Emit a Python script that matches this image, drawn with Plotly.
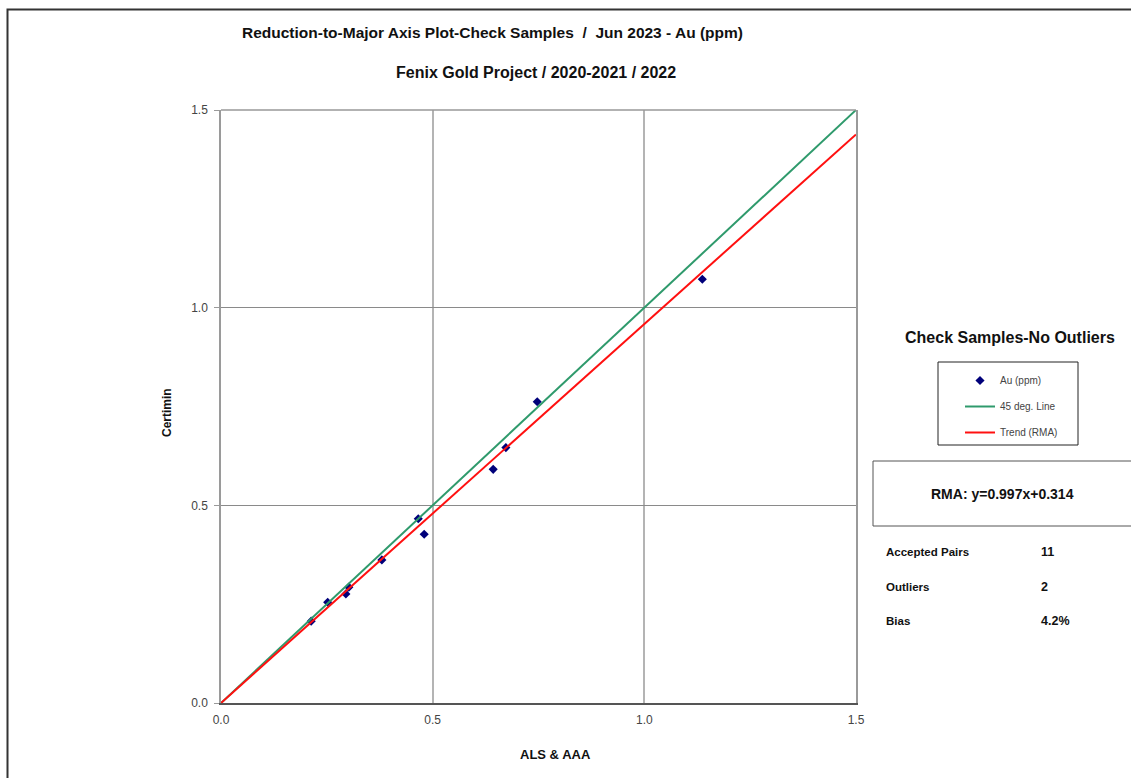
import plotly.graph_objects as go

# ---- data ----
als_aaa = [0.213, 0.252, 0.295, 0.302, 0.380, 0.466, 0.480, 0.643, 0.673, 0.747, 1.137]
certimin = [0.207, 0.255, 0.276, 0.293, 0.362, 0.466, 0.427, 0.591, 0.646, 0.762, 1.072]
line45_x = [0.0, 1.5]
line45_y = [0.0, 1.5]
trend_x = [0.0, 1.5]
trend_y = [0.0, 1.438]
tick_vals = [0.0, 0.5, 1.0, 1.5]
tick_text = ["0.0", "0.5", "1.0", "1.5"]
stat_labels = ["Accepted Pairs", "Outliers", "Bias"]
stat_values = ["11", "2", "4.2%"]

W, H = 1131, 778
L, R, T, B = 221, 856, 110, 703  # plot area in pixels


def px(x):
    return (x - L) / (R - L)


def py(y):
    return (B - y) / (B - T)


FONT = "Liberation Sans, Arial, sans-serif"

fig = go.Figure()
fig.add_trace(go.Scatter(x=als_aaa, y=certimin, mode="markers", name="Au (ppm)",
                         legendgroup="a",
                         marker=dict(symbol="diamond", size=7, color="#00007a")))
fig.add_trace(go.Scatter(x=line45_x, y=line45_y, mode="lines", name="45 deg. Line",
                         legendgroup="b",
                         line=dict(color="#2f9a6c", width=2)))
fig.add_trace(go.Scatter(x=trend_x, y=trend_y, mode="lines", name="Trend (RMA)",
                         legendgroup="c",
                         line=dict(color="#ff1010", width=2)))

shapes = [
    # outer frame
    dict(type="rect", xref="paper", yref="paper", x0=px(7.5), x1=px(W + 20), y0=py(H + 20), y1=py(9.5),
         line=dict(color="#333333", width=2), layer="below"),
    # top border of plot
    dict(type="line", xref="paper", yref="paper", x0=0, x1=1, y0=1, y1=1,
         line=dict(color="#999999", width=1.5)),
    # legend box
    dict(type="rect", xref="paper", yref="paper", x0=px(938), x1=px(1078), y0=py(445), y1=py(362),
         line=dict(color="#222222", width=1)),
    # RMA box
    dict(type="rect", xref="paper", yref="paper", x0=px(873), x1=px(W + 20), y0=py(526), y1=py(461),
         line=dict(color="#555555", width=1)),
]

annotations = [
    dict(text="<b>Reduction-to-Major Axis Plot-Check Samples  /  Jun 2023 - Au (ppm)</b>",
         x=px(492), y=py(32), font=dict(size=15.5, color="#111111")),
    dict(text="<b>Fenix Gold Project / 2020-2021 / 2022</b>",
         x=px(536), y=py(72), font=dict(size=16, color="#111111")),
    dict(text="<b>Check Samples-No Outliers</b>",
         x=px(1010), y=py(337), font=dict(size=16, color="#111111")),
    dict(text="<b>RMA: y=0.997x+0.314</b>",
         x=px(1003), y=py(494), font=dict(size=14, color="#111111")),
    dict(text="<b>ALS & AAA</b>",
         x=px(555), y=py(754), font=dict(size=13, color="#111111")),
    dict(text="<b>Certimin</b>", textangle=-90,
         x=px(167), y=py(413), font=dict(size=12, color="#111111")),
]
for i, (lab, val) in enumerate(zip(stat_labels, stat_values)):
    yy = 552 + i * 34.5
    annotations.append(dict(text="<b>" + lab + "</b>", x=px(884), y=py(yy), xanchor="left",
                            font=dict(size=11.5, color="#111111")))
    annotations.append(dict(text="<b>" + val + "</b>", x=px(1039), y=py(yy), xanchor="left",
                            font=dict(size=12.5, color="#111111")))
for a in annotations:
    a.setdefault("xanchor", "center")
    a.update(xref="paper", yref="paper", yanchor="middle", showarrow=False)

fig.update_layout(
    width=W, height=H,
    margin=dict(l=L, r=W - R, t=T, b=H - B, pad=0),
    paper_bgcolor="white", plot_bgcolor="white",
    font=dict(family=FONT, color="#222222"),
    showlegend=True,
    legend=dict(x=px(960), y=py(366), xanchor="left", yanchor="top",
                bgcolor="rgba(0,0,0,0)", borderwidth=0,
                font=dict(size=10, color="#444444"),
                traceorder="grouped", tracegroupgap=7, itemwidth=30),
    xaxis=dict(range=[0, 1.5], tickvals=tick_vals, ticktext=tick_text,
               showgrid=True, gridcolor="#b4b4b4", gridwidth=1.5,
               showline=True, linecolor="#555555", linewidth=2,
               zeroline=False, ticks="", ticklabelstandoff=5,
               tickfont=dict(size=12, color="#444444")),
    yaxis=dict(range=[0, 1.5], tickvals=tick_vals, ticktext=tick_text,
               showgrid=True, gridcolor="#8a8a8a", gridwidth=1.2,
               showline=True, linecolor="#9a9a9a", linewidth=1.5, mirror=True,
               zeroline=False, ticks="outside", ticklen=5, tickcolor="#9a9a9a",
               ticklabelstandoff=4,
               tickfont=dict(size=12, color="#444444")),
    shapes=shapes,
    annotations=annotations,
)

fig.write_html("out.html", config={"displayModeBar": False},
               post_script="document.body.style.margin='0';document.body.style.overflow='hidden';")
